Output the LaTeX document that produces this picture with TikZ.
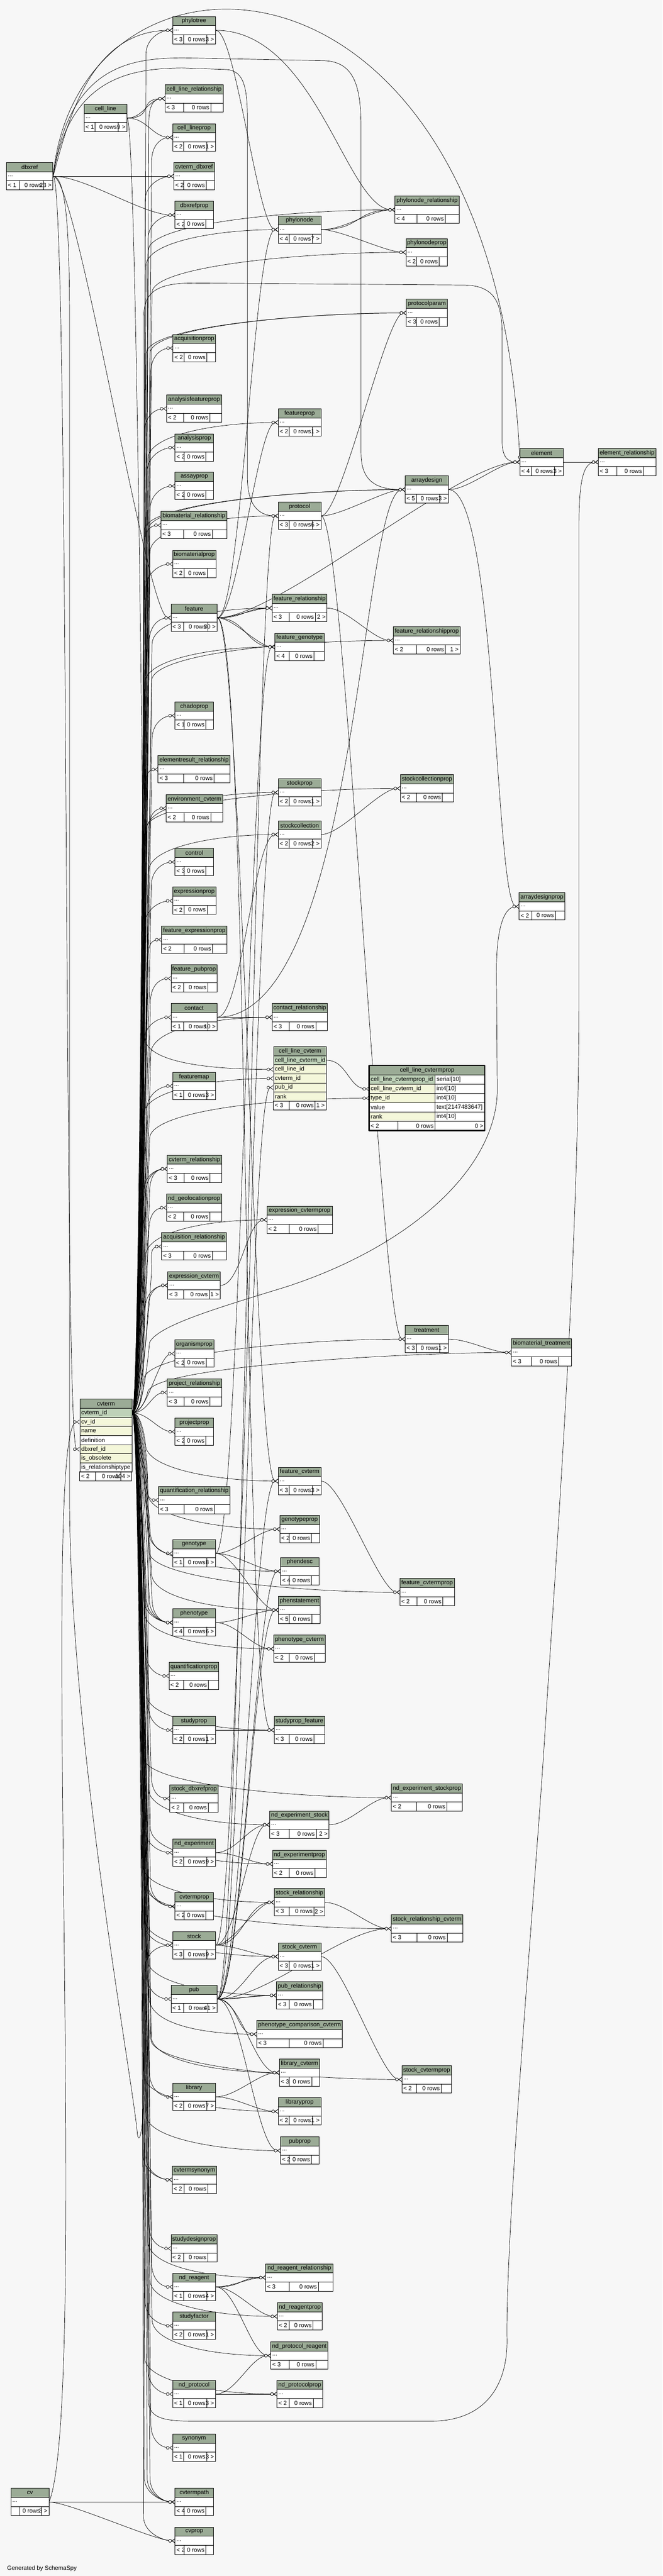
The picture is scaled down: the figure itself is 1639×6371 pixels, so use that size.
\documentclass[tikz,border=0pt]{standalone}
\usepackage{fontspec}
\setmainfont{Liberation Sans}
\usetikzlibrary{arrows.meta,calc}
\definecolor{bgcol}{HTML}{F7F7F7}
\definecolor{headfill}{HTML}{9BAB96}
\definecolor{pkfill}{HTML}{BED1B8}
\definecolor{ixfill}{HTML}{F4F7DA}
\pgfdeclarelayer{bgl}
\pgfdeclarelayer{edges}
\pgfsetlayers{bgl,edges,main}
\newcommand\tblfont{\fontsize{14.67}{17}\selectfont}
\newdimen\tbwl
\newdimen\tbwr
% footer row: id, x, y, width, height, left, right
\newcommand{\tblfoot}[7]{%
  \settowidth\tbwl{\tblfont #6}\settowidth\tbwr{\tblfont #7}%
  \pgfmathsetmacro\tba{max(\tbwl+7,15)}%
  \pgfmathsetmacro\tbc{max(\tbwr+7,15)}%
  \pgfmathsetmacro\tbx{#4-\tba-51-\tbc}%
  \pgfmathsetmacro\tbp{#2+\tba+\tbx/2}%
  \pgfmathsetmacro\tbq{\tbp+51+\tbx/4}%
  \draw[cell] (#2,#3) rectangle ++(#4,#5) (\tbp,#3) -- ++(0,#5) (\tbq,#3) -- ++(0,#5);
  \node[txt,anchor=west] (#1-a) at (#2,#3+#5/2) {#6};
  \node[txt,anchor=east] (#1-b) at (\tbq,#3+#5/2) {0 rows};
  \node[txt,anchor=east] (#1-c) at (#2+#4,#3+#5/2) {#7};
}
% short table: id, x, y, width, left, right
\newcommand{\tbl}[6]{%
  \node[tblbox,minimum width=#4] (#1) at (#2,#3) {};
  \fill[headfill] (#2,#3) rectangle ++(#4,22.5);
  \draw[cell] (#2,#3) rectangle ++(#4,45) (#2,#3+22.5) -- ++(#4,0);
  \node[txt] (#1-h) at (#2+#4/2,#3+11.25) {\detokenize{#1}};
  \node[txt,anchor=west] (#1-r) at (#2,#3+33.75) {...};
  \tblfoot{#1}{#2}{#3+45}{#4}{22.5}{#5}{#6}%
}
% column row: id, x, y, width, height, fill, text
\newcommand{\colrow}[7]{%
  \pgfmathsetmacro\tbw{#4-7}%
  \node[colbox,fill=#6,text width=\tbw pt,minimum height=#5] (#1) at (#2,#3) {#7};
}
% connectors
\newcommand{\fk}[3][50]{\draw[fk] (#2) .. controls +(#1,0) and +(-#1,0) .. (#3);}
\newcommand{\fkc}[4]{\draw[fk] (#1) .. controls +(#3) and +(#4) .. (#2);}
\newcommand{\fkup}[5]{\draw[fk] (#1) .. controls +(25,0) and ($(trunk |- #2)+(#3,#4)$) .. ($(trunk |- #2)+(#3,#4)$)
  .. controls ($(trunk |- #2)+(#3,#4/3)$) and ($(#2)+(-#5,0)$) .. (#2);}
\newcommand{\fkdn}[5]{\draw[fk] (#1) .. controls +(25,0) and ($(trunk |- #2)+(#3,-#4)$) .. ($(trunk |- #2)+(#3,-#4)$)
  .. controls ($(trunk |- #2)+(#3,-#4/3)$) and ($(#2)+(-#5,0)$) .. (#2);}

\begin{document}
\begin{tikzpicture}[x=1pt,y=-1pt,line cap=round,line join=round,
  fk/.style={line width=0.9pt,-{Circle[fill=white,length=8pt,width=8pt] Straight Barb[reversed,length=7pt,width=10pt]}},
  cell/.style={line width=1.1pt},
  tblbox/.style={fill=white,inner sep=0pt,minimum height=67.5pt,anchor=north west},
  txt/.style={font=\tblfont,inner xsep=3.5pt,inner ysep=1pt},
  colbox/.style={draw,line width=1.1pt,anchor=north west,inner xsep=3.5pt,inner ysep=0pt,align=left,font=\tblfont}]
\begin{pgfonlayer}{bgl}
\fill[bgcol] (0,0) rectangle (1639,6371);
\end{pgfonlayer}
\useasboundingbox (0,0) rectangle (1639,6371);

%left side
\tbl{dbxref}{16}{402}{115}{< 1}{23 >}
\tbl{cell_line}{208}{258}{106}{< 1}{9 >}
\tbl{cv}{27}{6154}{94}{}{3 >}

%cvterm
\node[tblbox,minimum width=129,minimum height=202.5] (cvterm) at (197,3460) {};
\node[colbox,fill=headfill,align=center,text width=122pt,minimum height=22.5] (cvterm-h) at (197,3460) {cvterm};
\foreach \rn/\rf/\rt [count=\ck] in {id/pkfill/cvterm\_id, cv/ixfill/cv\_id, name/ixfill/name, def/white/definition, dbx/ixfill/dbxref\_id, obs/ixfill/is\_obsolete, rel/white/is\_relationshiptype}
  {\colrow{cvterm-\rn}{197}{3460+\ck*22.5}{129}{22.5}{\rf}{\rt}}
\tblfoot{cvterm}{197}{3640}{129}{22.5}{< 2}{104 >}

%column 1
\tbl{phylotree}{427}{41}{106}{< 3}{3 >}
\tbl{cell_line_relationship}{408}{210}{144}{< 3}{}
\tbl{cell_lineprop}{427}{306}{106}{< 2}{1 >}
\tbl{cvterm_dbxref}{430}{402}{100}{< 2}{}
\tbl{dbxrefprop}{433}{498}{95}{< 2}{}
\tbl{acquisitionprop}{428}{827}{105}{< 2}{}
\tbl{analysisfeatureprop}{412}{977}{136}{< 2}{}
\tbl{analysisprop}{433}{1073}{95}{< 2}{}
\tbl{assayprop}{433}{1168}{95}{< 2}{}
\tbl{biomaterial_relationship}{398}{1265}{163}{< 3}{}
\tbl{biomaterialprop}{427}{1361}{107}{< 2}{}
\tbl{feature}{423}{1494}{114}{< 3}{30 >}
\tbl{chadoprop}{433}{1736}{95}{< 1}{}
\tbl{elementresult_relationship}{391}{1869}{178}{< 3}{}
\tbl{environment_cvterm}{411}{1965}{140}{< 2}{}
\tbl{control}{433}{2098}{95}{< 3}{}
\tbl{expressionprop}{427}{2194}{107}{< 2}{}
\tbl{feature_expressionprop}{400}{2290}{161}{< 2}{}
\tbl{feature_pubprop}{423}{2386}{114}{< 2}{}
\tbl{contact}{423}{2482}{114}{< 1}{10 >}
\tbl{featuremap}{427}{2652}{106}{< 1}{3 >}
\tbl{cvterm_relationship}{414}{2857}{134}{< 3}{}
\tbl{nd_geolocationprop}{412}{2953}{136}{< 2}{}
\tbl{acquisition_relationship}{400}{3049}{160}{< 3}{}
\tbl{expression_cvterm}{415}{3145}{130}{< 3}{1 >}
\tbl{organismprop}{432}{3314}{97}{< 2}{}
\tbl{project_relationship}{414}{3410}{134}{< 3}{}
\tbl{projectprop}{433}{3507}{95}{< 2}{}
\tbl{quantification_relationship}{392}{3676}{177}{< 3}{}
\tbl{genotype}{427}{3808}{106}{< 1}{8 >}
\tbl{phenotype}{427}{3979}{106}{< 4}{6 >}
\tbl{quantificationprop}{418}{4111}{123}{< 2}{}
\tbl{studyprop}{427}{4245}{106}{< 2}{1 >}
\tbl{stock_dbxrefprop}{420}{4414}{120}{< 2}{}
\tbl{nd_experiment}{427}{4548}{106}{< 2}{9 >}
\tbl{cvtermprop}{433}{4681}{95}{< 2}{}
\tbl{stock}{427}{4777}{106}{< 3}{9 >}
\tbl{pub}{423}{4910}{114}{< 1}{41 >}
\tbl{library}{427}{5152}{106}{< 2}{7 >}
\tbl{cvtermsynonym}{426}{5357}{110}{< 2}{}
\tbl{studydesignprop}{423}{5527}{114}{< 2}{}
\tbl{nd_reagent}{427}{5622}{106}{< 1}{4 >}
\tbl{studyfactor}{427}{5718}{106}{< 2}{1 >}
\tbl{nd_protocol}{427}{5887}{106}{< 1}{3 >}
\tbl{synonym}{427}{6020}{106}{< 1}{3 >}
\tbl{cvtermpath}{433}{6154}{95}{< 4}{}
\tbl{cvprop}{433}{6250}{95}{< 2}{}

%column 2
\tbl{phylonode}{688}{534}{106}{< 4}{7 >}
\tbl{featureprop}{688}{1011}{106}{< 2}{1 >}
\tbl{protocol}{688}{1242}{106}{< 3}{6 >}
\tbl{feature_relationship}{673}{1470}{136}{< 3}{2 >}
\tbl{feature_genotype}{680}{1566}{122}{< 4}{}
\tbl{stockprop}{688}{1926}{106}{< 2}{1 >}
\tbl{stockcollection}{688}{2030}{106}{< 2}{2 >}
\tbl{contact_relationship}{673}{2482}{137}{< 3}{}
\node[tblbox,minimum width=131,minimum height=157.5] (cell_line_cvterm) at (676,2588) {};
\node[colbox,fill=headfill,align=center,text width=124pt,minimum height=22.5] (clc-h) at (676,2588) {cell\_line\_cvterm};
\foreach \rn/\rf/\rt [count=\ck] in {id/pkfill/cell\_line\_cvterm\_id, cell/ixfill/cell\_line\_id, cvterm/ixfill/cvterm\_id, pub/ixfill/pub\_id, rank/ixfill/rank}
  {\colrow{clc-\rn}{676}{2588+\ck*22.5}{131}{22.5}{\rf}{\rt}}
\tblfoot{clc}{676}{2723}{131}{22.5}{< 3}{1 >}
\tbl{expression_cvtermprop}{660}{2983}{162}{< 2}{}
\tbl{feature_cvterm}{688}{3629}{106}{< 3}{3 >}
\tbl{genotypeprop}{692}{3748}{98}{< 2}{}
\tbl{phendesc}{694}{3852}{95}{< 4}{}
\tbl{phenstatement}{689}{3948}{103}{< 5}{}
\tbl{phenotype_cvterm}{677}{4044}{127}{< 2}{}
\tbl{studyprop_feature}{678}{4245}{125}{< 3}{}
\tbl{nd_experiment_stock}{667}{4479}{147}{< 3}{2 >}
\tbl{nd_experimentprop}{674}{4576}{133}{< 2}{}
\tbl{stock_relationship}{678}{4671}{125}{< 3}{2 >}
\tbl{stock_cvterm}{688}{4805}{106}{< 3}{1 >}
\tbl{pub_relationship}{684}{4901}{114}{< 3}{}
\tbl{phenotype_comparison_cvterm}{635}{4997}{212}{< 3}{}
\tbl{library_cvterm}{691}{5092}{100}{< 3}{}
\tbl{libraryprop}{688}{5188}{106}{< 2}{1 >}
\tbl{pubprop}{694}{5285}{95}{< 2}{}
\tbl{nd_reagent_relationship}{657}{5599}{167}{< 3}{}
\tbl{nd_reagentprop}{686}{5695}{111}{< 2}{}
\tbl{nd_protocol_reagent}{670}{5792}{141}{< 3}{}
\tbl{nd_protocolprop}{685}{5887}{113}{< 2}{}

%column 3 and right
\tbl{phylonode_relationship}{977}{485}{159}{< 4}{}
\tbl{phylonodeprop}{1004}{590}{103}{< 2}{}
\tbl{protocolparam}{1005}{740}{102}{< 3}{}
\tbl{arraydesign}{1002}{1177}{107}{< 5}{3 >}
\tbl{feature_relationshipprop}{973}{1550}{165}{< 2}{1 >}
\tbl{stockcollectionprop}{990}{1916}{132}{< 2}{}
\node[tblbox,minimum width=286,minimum height=161] (cell_line_cvtermprop) at (913,2635) {};
\node[colbox,fill=headfill,align=center,text width=279pt,minimum height=23] (clcp-h) at (913,2635) {cell\_line\_cvtermprop};
\foreach \rn/\rf/\rt/\ty [count=\ck] in {id/pkfill/cell\_line\_cvtermprop\_id/serial[10], clc/ixfill/cell\_line\_cvterm\_id/int4[10], type/ixfill/type\_id/int4[10], val/white/value/text[2147483647], rank/ixfill/rank/int4[10]}
  {\colrow{clcp-\rn}{913}{2635+\ck*23}{163}{23}{\rf}{\rt}
   \colrow{clcp-\rn-t}{1076}{2635+\ck*23}{123}{23}{white}{\ty}}
\draw[cell] (913,2773) rectangle (1199,2796) (984,2773) -- (984,2796) (1076,2773) -- (1076,2796);
\node[txt,anchor=west] (clcp-a) at (913,2784.5) {< 2};
\node[txt,anchor=east] (clcp-b) at (1076,2784.5) {0 rows};
\node[txt,anchor=east] (clcp-c) at (1199,2784.5) {0 >};
\draw[line width=3pt] (913,2635) rectangle (1199,2796);
\tbl{treatment}{1002}{3278}{107}{< 3}{1 >}
\tbl{feature_cvtermprop}{989}{3904}{135}{< 2}{}
\tbl{nd_experiment_stockprop}{968}{4412}{176}{< 2}{}
\tbl{stock_relationship_cvterm}{968}{4736}{177}{< 3}{}
\tbl{stock_cvtermprop}{994}{5109}{123}{< 2}{}
\tbl{element}{1286}{1109}{107}{< 4}{3 >}
\tbl{arraydesignprop}{1284}{2208}{113}{< 2}{}
\tbl{biomaterial_treatment}{1265}{3311}{149}{< 3}{}
\tbl{element_relationship}{1480}{1109}{142}{< 3}{}

\node[txt,anchor=west] (gen) at (14,6352) {Generated by SchemaSpy};
\coordinate (trunk) at (354,0);

\begin{pgfonlayer}{edges}
%cvterm to column 1
\foreach \tn [count=\ci] in {phylotree, cell_line_relationship, cell_lineprop, cvterm_dbxref, dbxrefprop, acquisitionprop, analysisfeatureprop, analysisprop, assayprop, biomaterial_relationship, biomaterialprop, feature, chadoprop, elementresult_relationship, environment_cvterm, control, expressionprop, feature_expressionprop, feature_pubprop, contact, featuremap, cvterm_relationship, cvterm_relationship, cvterm_relationship, nd_geolocationprop, acquisition_relationship, expression_cvterm, expression_cvterm}
  {\pgfmathsetmacro\dx{mod(\ci*7,23)}\fkup{cvterm-id.east}{\tn.west}{\dx}{60}{30}}
\foreach \tn [count=\ci] in {quantification_relationship, genotype, phenotype, phenotype, phenotype, phenotype, quantificationprop, studyprop, stock_dbxrefprop, nd_experiment, cvtermprop, cvtermprop, stock, pub, library, cvtermsynonym, cvtermsynonym, studydesignprop, nd_reagent, studyfactor, nd_protocol, synonym, cvtermpath, cvtermpath, cvtermpath, cvprop}
  {\pgfmathsetmacro\dx{mod(\ci*7+3,23)}\fkdn{cvterm-id.east}{\tn.west}{\dx}{60}{30}}
\fk[40]{cvterm-id.east}{organismprop.west}
\fk[40]{cvterm-id.east}{project_relationship.west}
\fk[40]{cvterm-id.east}{projectprop.west}
%cvterm to column 2
\foreach \tn [count=\ci] in {phylonode, featureprop, protocol, feature_relationship, feature_genotype, stockprop, stockcollection, contact_relationship, clc-cvterm, expression_cvtermprop}
  {\pgfmathsetmacro\dx{mod(\ci*5+2,23)}\fkup{cvterm-id.east}{\tn.west}{\dx}{90}{150}}
\foreach \tn [count=\ci] in {feature_cvterm, genotypeprop, phendesc, phenstatement, phenotype_cvterm, studyprop_feature, nd_experiment_stock, nd_experimentprop, stock_relationship, stock_cvterm, pub_relationship, phenotype_comparison_cvterm, library_cvterm, libraryprop, pubprop, nd_reagent_relationship, nd_reagentprop, nd_protocol_reagent, nd_protocolprop}
  {\pgfmathsetmacro\dx{mod(\ci*5+1,23)}\fkdn{cvterm-id.east}{\tn.west}{\dx}{90}{150}}
%cvterm to column 3
\foreach \tn [count=\ci] in {phylonode_relationship, phylonodeprop, protocolparam, protocolparam, arraydesign, arraydesign, feature_relationshipprop, stockcollectionprop, clcp-type, treatment, biomaterial_treatment}
  {\pgfmathsetmacro\dx{mod(\ci*9+4,23)}\fkup{cvterm-id.east}{\tn.west}{\dx}{100}{250}}
\foreach \tn [count=\ci] in {feature_cvtermprop, nd_experiment_stockprop, stock_relationship_cvterm, stock_cvtermprop}
  {\pgfmathsetmacro\dx{mod(\ci*9+6,23)}\fkdn{cvterm-id.east}{\tn.west}{\dx}{100}{250}}
\draw[fk] (cvterm-id.east) .. controls +(25,0) and (356,3400) .. (356,3300) -- (356,780) .. controls (356,715) and (400,700) .. (480,700) -- (1150,705) .. controls (1225,707) and (1242,750) .. (1242,830) -- (1242,1090) .. controls (1242,1130) and (1255,1143) .. (element.west);
\draw[fk] (cvterm-id.east) .. controls +(25,0) and (366,3600) .. (366,3700) -- (366,5930) .. controls (366,5980) and (400,5988) .. (480,5988) -- (1066,5988) .. controls (1200,5988) and (1256,5900) .. (1254,5785) .. controls (1250,5500) and (1330,4600) .. (1350,4250) .. controls (1400,3500) and (1430,3000) .. (1432,2500) -- (1432,1300) .. controls (1432,1180) and (1445,1143) .. (element_relationship.west);
\draw[fk] (cvterm-id.east) .. controls +(25,0) and (364,3380) .. (370,3320) .. controls (390,3280) and (520,3240) .. (700,3185) .. controls (1000,3090) and (1225,2900) .. (1230,2700) -- (1228,2420) .. controls (1226,2300) and (1245,2242) .. (arraydesignprop.west);

%cv and dbxref
\fkc{cv.east}{cvterm-cv.west}{100,-250}{-100,0}
\fk{cv.east}{cvtermpath.west}
\fk{cv.east}{cvprop.west}
\fkc{dbxref.east}{cvterm-dbx.west}{40,0}{-40,0}
\fkc{dbxref.east}{phylotree.west}{40,-150}{-200,0}
\fk{dbxref.east}{cvterm_dbxref.west}
\fk[80]{dbxref.east}{dbxrefprop.west}
\fkc{dbxref.east}{feature.west}{60,0}{-60,0}
\fkc{dbxref.east}{element.west}{60,-636}{-60,-1343}
\draw[fk] (dbxref.east) .. controls +(40,-250) and (330,170) .. (450,168) -- (560,172) .. controls (605,175) and (612,220) .. (612,300) -- (612,1180) .. controls (612,1250) and (640,1276) .. (protocol.west);
\draw[fk] (dbxref.east) .. controls +(40,-280) and (330,145) .. (450,143) -- (800,150) .. controls (880,152) and (893,220) .. (893,320) -- (893,1120) .. controls (893,1190) and (930,1211) .. (arraydesign.west);
\draw[fk] (dbxref.east) .. controls +(35,0) and (172,600) .. (172,800) -- (172,3700) .. controls (172,4300) and (330,5150) .. (340,5280) .. controls (346,5310) and (356,5250) .. (357,5150) -- (357,4880) .. controls (357,4830) and (390,4811) .. (stock.west);

%cell_line
\fk[40]{cell_line.east}{cell_line_relationship.west}
\fk[70]{cell_line.east}{cell_line_relationship.west}
\fk{cell_line.east}{cell_lineprop.west}
\fkdn{cell_line.east}{clc-cell.west}{4}{80}{200}
\fk{clc-id.east}{clcp-clc.west}

%phylo
\fk{phylotree.east}{phylonode.west}
\fkc{phylotree.east}{phylonode_relationship.west}{250,0}{-120,0}
\fk[60]{phylonode.east}{phylonode_relationship.west}
\fk[100]{phylonode.east}{phylonode_relationship.west}
\fk{phylonode.east}{phylonodeprop.west}

%feature
\fk[60]{feature.east}{phylonode.west}
\fk{feature.east}{featureprop.west}
\fk[40]{feature.east}{feature_relationship.west}
\fk[70]{feature.east}{feature_relationship.west}
\fk[40]{feature.east}{feature_genotype.west}
\fk[70]{feature.east}{feature_genotype.west}
\fk[150]{feature.east}{element.west}
\fk[60]{feature.east}{feature_cvterm.west}
\fk[80]{feature.east}{studyprop_feature.west}
\fk{feature_relationship.east}{feature_relationshipprop.west}

%protocol, contact, arraydesign
\fk{protocol.east}{protocolparam.west}
\fk{protocol.east}{arraydesign.west}
\fk[60]{protocol.east}{treatment.west}
\fk[40]{contact.east}{contact_relationship.west}
\fk[70]{contact.east}{contact_relationship.west}
\fkc{contact.east}{arraydesign.west}{350,0}{-110,0}
\fk[60]{contact.east}{stockcollection.west}
\fk{stockcollection.east}{stockcollectionprop.west}
\fk{arraydesign.east}{element.west}
\fkc{arraydesign.east}{arraydesignprop.west}{120,0}{-60,0}
\fk[30]{element.east}{element_relationship.west}
\fk[50]{element.east}{element_relationship.west}
\fk{treatment.east}{biomaterial_treatment.west}

%pub
\foreach \tn in {protocol, clc-pub, feature_cvterm, phendesc, phenstatement, stock_cvterm, library_cvterm, pubprop}
  {\fk[60]{pub.east}{\tn.west}}
\fk[40]{pub.east}{pub_relationship.west}
\fk[70]{pub.east}{pub_relationship.west}
\fk[50]{pub.east}{phenotype_comparison_cvterm.west}
\fk[120]{pub.east}{stock_relationship_cvterm.west}

%genotype, phenotype, stock
\fk[60]{genotype.east}{feature_genotype.west}
\fk{genotype.east}{genotypeprop.west}
\fk{genotype.east}{phendesc.west}
\fk{genotype.east}{phenstatement.west}
\fk{phenotype.east}{phenstatement.west}
\fk{phenotype.east}{phenotype_cvterm.west}
\fk{expression_cvterm.east}{expression_cvtermprop.west}
\fk{feature_cvterm.east}{feature_cvtermprop.west}
\fk{studyprop.east}{studyprop_feature.west}
\fk[60]{stock.east}{stockprop.west}
\fk[40]{stock.east}{stock_relationship.west}
\fk[70]{stock.east}{stock_relationship.west}
\fk{stock.east}{stock_cvterm.west}
\fk{stock.east}{nd_experiment_stock.west}
\fk{nd_experiment.east}{nd_experiment_stock.west}
\fk{nd_experiment.east}{nd_experimentprop.west}
\fk{nd_experiment_stock.east}{nd_experiment_stockprop.west}
\fk{stock_relationship.east}{stock_relationship_cvterm.west}
\fk{stock_cvterm.east}{stock_cvtermprop.west}
\fk{library.east}{library_cvterm.west}
\fk{library.east}{libraryprop.west}

%nd_reagent, nd_protocol
\fk[40]{nd_reagent.east}{nd_reagent_relationship.west}
\fk[70]{nd_reagent.east}{nd_reagent_relationship.west}
\fk{nd_reagent.east}{nd_reagentprop.west}
\fk{nd_reagent.east}{nd_protocol_reagent.west}
\fk{nd_protocol.east}{nd_protocol_reagent.west}
\fk{nd_protocol.east}{nd_protocolprop.west}
\end{pgfonlayer}
\end{tikzpicture}
\end{document}
